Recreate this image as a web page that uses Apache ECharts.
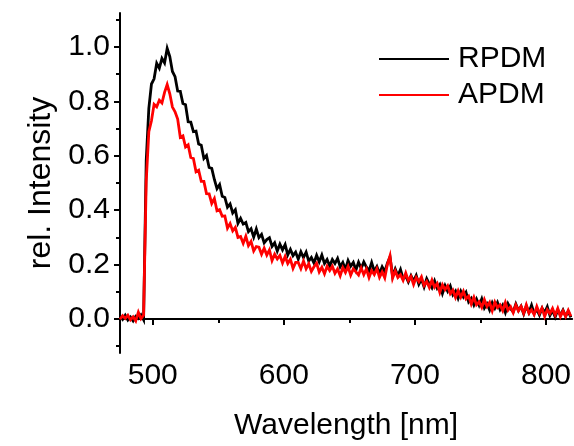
<!DOCTYPE html>
<html><head><meta charset="utf-8">
<script src="https://cdn.jsdelivr.net/npm/echarts@6/dist/echarts.min.js"></script>
<style>html,body{margin:0;padding:0;background:#fff}#c{width:574px;height:446px}</style>
</head><body><div id="c"></div>
<script>
const wavelength=[475,477,479,481,483,485,487,489,491,493,
495,497,499,501,503,505,507,509,511,513,
515,517,519,521,523,525,527,529,531,533,
535,537,539,541,543,545,547,549,551,553,
555,557,559,561,563,565,567,569,571,573,
575,577,579,581,583,585,587,589,591,593,
595,597,599,601,603,605,607,609,611,613,
615,617,619,621,623,625,627,629,631,633,
635,637,639,641,643,645,647,649,651,653,
655,657,659,661,663,665,667,669,671,673,
675,677,679,681,683,685,687,689,691,693,
695,697,699,701,703,705,707,709,711,713,
715,717,719,721,723,725,727,729,731,733,
735,737,739,741,743,745,747,749,751,753,
755,757,759,761,763,765,767,769,771,773,
775,777,779,781,783,785,787,789,791,793,
795,797,799,801,803,805,807,809,811,813,
815,817,819];
const rpdm=[0.011,-0.001,0.014,-0.004,0.007,-0.007,0.010,0.002,0.015,-0.003,
0.583,0.774,0.864,0.883,0.940,0.922,0.958,0.941,0.995,0.965,
0.910,0.891,0.838,0.837,0.792,0.788,0.725,0.724,0.689,0.691,
0.643,0.639,0.590,0.601,0.557,0.554,0.513,0.479,0.494,0.451,
0.447,0.411,0.423,0.390,0.402,0.352,0.370,0.349,0.355,0.321,
0.332,0.301,0.331,0.299,0.311,0.280,0.292,0.299,0.267,0.280,
0.250,0.275,0.254,0.274,0.236,0.256,0.233,0.246,0.220,0.247,
0.226,0.246,0.213,0.226,0.206,0.234,0.210,0.235,0.204,0.219,
0.195,0.219,0.204,0.223,0.192,0.208,0.182,0.215,0.194,0.208,
0.180,0.209,0.186,0.210,0.191,0.177,0.208,0.176,0.193,0.167,
0.192,0.174,0.205,0.228,0.157,0.184,0.159,0.182,0.148,0.158,
0.136,0.159,0.139,0.160,0.128,0.147,0.118,0.148,0.129,0.114,
0.140,0.113,0.127,0.094,0.123,0.102,0.121,0.089,0.103,0.076,
0.102,0.081,0.098,0.063,0.076,0.051,0.073,0.050,0.074,0.040,
0.056,0.033,0.060,0.040,0.061,0.034,0.051,0.024,0.056,0.038,
0.026,0.055,0.031,0.047,0.019,0.048,0.024,0.051,0.020,0.035,
0.014,0.040,0.024,0.045,0.013,0.032,0.007,0.033,0.014,0.033,
0.010,0.028,0.006];
const apdm=[-0.001,0.012,0.002,0.014,-0.003,0.008,-0.007,0.025,0.001,0.014,
0.506,0.689,0.729,0.789,0.780,0.804,0.794,0.833,0.862,0.828,
0.779,0.762,0.735,0.668,0.673,0.632,0.640,0.594,0.590,0.541,
0.547,0.506,0.506,0.461,0.460,0.425,0.443,0.398,0.402,0.378,
0.379,0.334,0.351,0.324,0.337,0.300,0.303,0.278,0.304,0.270,
0.285,0.250,0.266,0.264,0.238,0.260,0.235,0.254,0.215,0.238,
0.221,0.234,0.206,0.230,0.204,0.220,0.186,0.208,0.208,0.185,
0.213,0.185,0.203,0.175,0.192,0.205,0.173,0.190,0.166,0.194,
0.178,0.194,0.168,0.184,0.159,0.189,0.171,0.193,0.161,0.184,
0.173,0.162,0.188,0.163,0.184,0.152,0.178,0.163,0.185,0.153,
0.173,0.151,0.200,0.232,0.150,0.177,0.153,0.163,0.142,0.169,
0.141,0.156,0.127,0.153,0.137,0.155,0.123,0.138,0.116,0.143,
0.117,0.131,0.098,0.126,0.108,0.122,0.093,0.106,0.079,0.104,
0.080,0.102,0.074,0.084,0.055,0.080,0.052,0.063,0.043,0.071,
0.046,0.061,0.030,0.062,0.042,0.052,0.031,0.061,0.032,0.045,
0.023,0.051,0.030,0.046,0.021,0.052,0.022,0.034,0.016,0.046,
0.021,0.040,0.009,0.034,0.020,0.039,0.014,0.039,0.009,0.030,
0.009,0.032,0.010];
const xMajor=[500,600,700,800];
const xMinor=[550,650,750];
const yMajor=[0,0.2,0.4,0.6,0.8,1.0];
const yMinor=[-0.1,0.1,0.3,0.5,0.7,0.9,1.1];
const seriesNames=['RPDM','APDM'];
const seriesColors=['#000000','#ff0000'];

const font='"Liberation Sans", Arial, sans-serif';
const chart=echarts.init(document.getElementById('c'),null,{renderer:'canvas'});
const black='#000';
function pairs(ys){return wavelength.map((w,i)=>[w,ys[i]]);}
const option={
  animation:false,
  backgroundColor:'#fff',
  grid:{left:120,right:0,top:13,bottom:92},
  xAxis:[{
    type:'value',min:475,max:820,
    axisLine:{show:true,lineStyle:{color:black,width:2}},
    axisTick:{show:true,customValues:xMajor,length:6,lineStyle:{color:black,width:2}},
    axisLabel:{customValues:xMajor,color:black,fontSize:30,fontFamily:font,margin:8},
    splitLine:{show:false},
    name:'Wavelength [nm]',nameLocation:'middle',nameGap:58,
    nameTextStyle:{color:black,fontSize:30,fontFamily:font}
  },{
    type:'value',min:475,max:820,position:'bottom',
    axisLine:{show:false},
    axisTick:{show:true,customValues:xMinor,length:4,lineStyle:{color:black,width:2}},
    axisLabel:{show:false},splitLine:{show:false}
  }],
  yAxis:[{
    type:'value',min:-0.125,max:1.125,
    axisLine:{show:true,lineStyle:{color:black,width:2}},
    axisTick:{show:true,customValues:yMajor,length:6,lineStyle:{color:black,width:2}},
    axisLabel:{customValues:yMajor,color:black,fontSize:30,fontFamily:font,margin:10,
      formatter:v=>Number(v).toFixed(1)},
    splitLine:{show:false},
    name:'rel. Intensity',nameLocation:'middle',nameGap:62,
    nameTextStyle:{color:black,fontSize:32,fontFamily:font}
  },{
    type:'value',min:-0.125,max:1.125,position:'left',
    axisLine:{show:false},
    axisTick:{show:true,customValues:yMinor,length:4,lineStyle:{color:black,width:2}},
    axisLabel:{show:false},splitLine:{show:false}
  }],
  legend:{
    orient:'vertical',left:379,top:44,padding:0,itemWidth:70,itemHeight:2,itemGap:6,icon:'rect',
    textStyle:{color:black,fontSize:30,fontFamily:font,padding:[0,0,0,4]},
    data:seriesNames
  },
  series:seriesNames.map((n,k)=>({
    name:n,type:'line',xAxisIndex:0,yAxisIndex:0,
    data:pairs(k===0?rpdm:apdm),
    showSymbol:false,symbol:'none',
    color:seriesColors[k],
    lineStyle:{color:seriesColors[k],width:2.8,join:'miter'},
    emphasis:{disabled:true}
  }))
};
chart.setOption(option);
</script></body></html>
